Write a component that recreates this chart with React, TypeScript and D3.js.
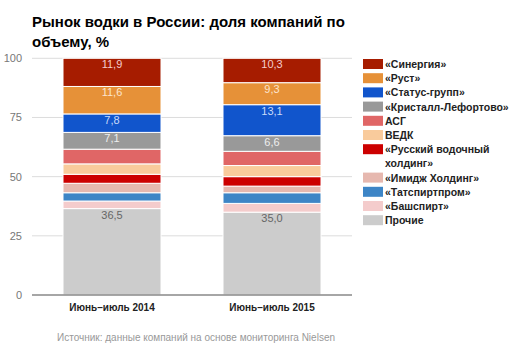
import * as d3 from "d3";

const periods = ["Июнь–июль 2014", "Июнь–июль 2015"];
const companies = [
  "«Синергия»",
  "«Руст»",
  "«Статус-групп»",
  "«Кристалл-Лефортово»",
  "АСГ",
  "ВЕДК",
  "«Русский водочный\nхолдинг»",
  "«Имидж Холдинг»",
  "«Татспиртпром»",
  "«Башспирт»",
  "Прочие",
];
const colors = ["#a61c00", "#e69138", "#1155cc", "#999999", "#e06666", "#f9cb9c", "#cc0000", "#e6b8af", "#3d85c6", "#f4cccc", "#cccccc"];
const labelColors = ["#f4cccc", "#fce5cd", "#c9daf8", "#eeeeee", null, null, null, null, null, null, "#666666"];
const values2014 = [11.9, 11.6, 7.8, 7.1, 6.2, 4.4, 3.8, 4.0, 3.5, 3.2, 36.5];
const values2015 = [10.3, 9.3, 13.1, 6.6, 6.0, 4.7, 4.0, 2.8, 4.5, 3.7, 35.0];
const yTicks = [0, 25, 50, 75, 100];

const W = 517;
const H = 353;

export default function App() {
  const x = d3.scaleBand<string>().domain(periods).range([32, 352]).paddingInner(0.3875).paddingOuter(0.19375);
  const y = d3.scaleLinear().domain([0, 100]).range([295, 58.3]);

  const rows = periods.map((p, i) => {
    const vals = i === 0 ? values2014 : values2015;
    const r: Record<string, number | string> = { period: p };
    companies.forEach((c, j) => (r[c] = vals[j]));
    return r;
  });
  // bottom of stack = Прочие
  const stackKeys = companies.slice().reverse();
  const series = d3.stack<Record<string, number | string>>().keys(stackKeys)(rows);
  const fmt = (v: number) => v.toFixed(1).replace(".", ",");

  return (
    <svg width={W} height={H} style={{ position: "absolute", left: 0, top: 0, background: "#fff" }} fontFamily="Arial, 'Liberation Sans', sans-serif">
      <text x={32} y={27} fontSize={15} fontWeight="bold" fill="#000">Рынок водки в России: доля компаний по</text>
      <text x={32} y={47} fontSize={15} fontWeight="bold" fill="#000">объему, %</text>

      {yTicks.map((t) => (
        <g key={t}>
          {t > 0 && <line x1={32} x2={352} y1={y(t)} y2={y(t)} stroke="#dddddd" />}
          <text x={22} y={y(t) + 4} fontSize={11} fill="#777" textAnchor="end">{t}</text>
        </g>
      ))}

      {series.map((s) => {
        const ci = companies.indexOf(s.key);
        return (
          <g key={s.key}>
            {s.map((d, i) => {
              const top = y(d[1]);
              const h = y(d[0]) - y(d[1]);
              const lc = labelColors[ci];
              return (
                <g key={i}>
                  <rect x={x(periods[i])} y={top} width={x.bandwidth()} height={h} fill={colors[ci]} stroke="#fff" strokeWidth={1} />
                  {lc && (
                    <text x={(x(periods[i]) ?? 0) + x.bandwidth() / 2} y={top + 10} fontSize={11} fill={lc} textAnchor="middle">
                      {fmt(d[1] - d[0])}
                    </text>
                  )}
                </g>
              );
            })}
          </g>
        );
      })}

      <line x1={32} x2={352} y1={y(0)} y2={y(0)} stroke="#888" strokeWidth={1.5} />

      {periods.map((p) => (
        <text key={p} x={(x(p) ?? 0) + x.bandwidth() / 2} y={311} fontSize={10} fontWeight="bold" fill="#222" textAnchor="middle">{p}</text>
      ))}

      {(() => {
        let row = 0;
        return companies.map((c, i) => {
          const lines = c.split("\n");
          const cy = 64 + row * 14.2;
          row += lines.length;
          return (
            <g key={c}>
              <rect x={363} y={cy - 5} width={20} height={10} fill={colors[i]} />
              <text x={385} y={cy + 4} fontSize={10.5} fontWeight="bold" fill="#222">
                {lines.map((l, k) => (
                  <tspan key={k} x={385} dy={k === 0 ? 0 : 14.2}>{l}</tspan>
                ))}
              </text>
            </g>
          );
        });
      })()}

      <text x={57} y={341} fontSize={10} fill="#999">Источник: данные компаний на основе мониторинга Nielsen</text>
    </svg>
  );
}
